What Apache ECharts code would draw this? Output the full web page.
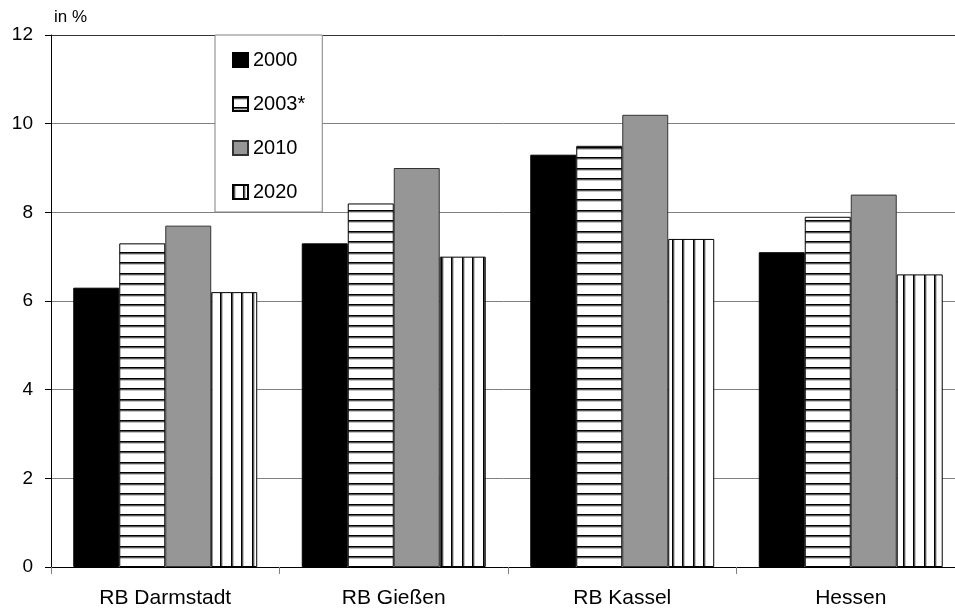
<!DOCTYPE html>
<html>
<head>
<meta charset="utf-8">
<script src="https://cdn.jsdelivr.net/npm/echarts@6/dist/echarts.min.js"></script>
<style>
  html, body { margin: 0; padding: 0; background: #fff; }
  #chart { width: 955px; height: 610px; }
</style>
</head>
<body>
<div id="chart"></div>
<script>
// ---- data ----
const categories = ['RB Darmstadt', 'RB Gießen', 'RB Kassel', 'Hessen'];
const seriesNames = ['2000', '2003*', '2010', '2020'];
const values2000 = [6.3, 7.3, 9.3, 7.1];
const values2003 = [7.3, 8.2, 9.5, 7.9];
const values2010 = [7.7, 9.0, 10.2, 8.4];
const values2020 = [6.2, 7.0, 7.4, 6.6];
const yTicks = [0, 2, 4, 6, 8, 10, 12];

// ---- patterns ----
function stripePattern(horizontal) {
  const c = document.createElement('canvas');
  const period = 21;
  c.width = horizontal ? 4 : period;
  c.height = horizontal ? period : 4;
  const ctx = c.getContext('2d');
  ctx.fillStyle = '#ffffff';
  ctx.fillRect(0, 0, c.width, c.height);
  const rows = [[0, '#000000'], [1, '#555555'], [2, '#c4c4c4'],
                [10, '#000000'], [11, '#555555'], [12, '#c4c4c4']];
  rows.forEach(([p, col]) => {
    ctx.fillStyle = col;
    if (horizontal) ctx.fillRect(0, p, c.width, 1);
    else ctx.fillRect(p, 0, 1, c.height);
  });
  return c;
}
const hPattern = { image: stripePattern(true), repeat: 'repeat' };
const vPattern = { image: stripePattern(false), repeat: 'repeat' };

const font = '"Liberation Sans", Arial, sans-serif';
const chart = echarts.init(document.getElementById('chart'), null, { renderer: 'canvas' });

function barSeries(name, data, color, border) {
  return {
    name: name,
    type: 'bar',
    data: data,
    barGap: '0%',
    barCategoryGap: '19.5%',
    itemStyle: { color: color, borderColor: border, borderWidth: 1 },
    emphasis: { disabled: true }
  };
}

const gridColors = ['#808080', '#808080', '#808080', '#808080', '#808080', '#808080', '#333333'];

chart.setOption({
  animation: false,
  backgroundColor: '#ffffff',
  textStyle: { fontFamily: font, color: '#000' },
  grid: { left: 51, width: 914, top: 35, bottom: 43, containLabel: false, outerBoundsMode: 'none' },
  legend: {
    orient: 'vertical',
    left: 215,
    top: 35,
    icon: 'rect',
    itemWidth: 15,
    itemHeight: 14,
    itemGap: 24,
    padding: [15, 17, 10, 17],
    backgroundColor: '#ffffff',
    borderColor: '#808080',
    borderWidth: 1,
    textStyle: { fontFamily: font, fontSize: 20, color: '#000', lineHeight: 14 },
    data: seriesNames
  },
  xAxis: {
    type: 'category',
    data: categories,
    axisLine: { lineStyle: { color: '#000', width: 1 } },
    axisTick: { show: true, length: 7, lineStyle: { color: '#808080' } },
    axisLabel: { fontFamily: font, fontSize: 21, color: '#000', margin: 21 }
  },
  yAxis: {
    type: 'value',
    min: yTicks[0],
    max: yTicks[yTicks.length - 1],
    interval: 2,
    name: 'in %',
    nameLocation: 'end',
    nameGap: 9,
    nameTextStyle: { fontFamily: font, fontSize: 17, color: '#000', align: 'left', padding: [0, 0, 0, 3] },
    axisLine: { show: true, lineStyle: { color: '#000', width: 1 } },
    axisTick: { show: true, length: 6, lineStyle: { color: '#000' } },
    axisLabel: { fontFamily: font, fontSize: 19, color: '#000', margin: 18 },
    splitLine: { show: true, lineStyle: { color: gridColors, width: 1 } }
  },
  series: [
    barSeries(seriesNames[0], values2000, '#000000', '#000000'),
    barSeries(seriesNames[1], values2003, hPattern, '#000000'),
    barSeries(seriesNames[2], values2010, '#969696', '#333333'),
    barSeries(seriesNames[3], values2020, vPattern, '#000000')
  ]
});
</script>
</body>
</html>
